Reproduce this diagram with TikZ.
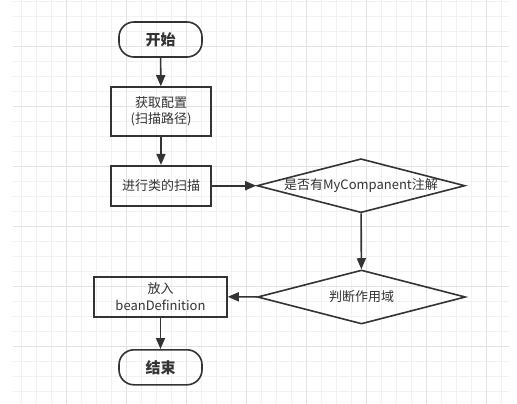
\documentclass[tikz,border=0pt]{standalone}
\usepackage{fontspec}
\setmainfont{Noto Sans CJK SC}
\usetikzlibrary{shapes.geometric, arrows.meta}
\definecolor{ink}{HTML}{333333}
\definecolor{gridminor}{HTML}{F1F1F1}
\definecolor{gridmajor}{HTML}{E2E2E2}
\tikzset{
  every node/.style={text=ink, font=\fontsize{13}{16.5}\selectfont},
  termbox/.style={draw=ink, line width=1.6pt, rounded corners=15pt, minimum width=83pt, minimum height=35pt, inner sep=0pt, font=\fontsize{15}{18}\selectfont\bfseries},
  procbox/.style={draw=ink, line width=1.6pt, minimum width=100pt, inner sep=0pt, align=center},
  decision/.style={draw=ink, line width=1.6pt, diamond, minimum width=208pt, minimum height=54pt, inner sep=0pt},
  flow/.style={draw=ink, line width=1.6pt, -{Triangle[length=11pt, width=9pt]}},
}
\begin{document}
\begin{tikzpicture}[x=1pt, y=-1pt]
\useasboundingbox (0,0) rectangle (517,404);
\fill[white] (0,0) rectangle (517,404);
% grid
\foreach \gx in {21.7,36.7,...,509} \draw[gridminor, line width=0.8pt] (\gx,0) -- (\gx,404);
\foreach \gy in {1.5,16.5,...,404} \draw[gridminor, line width=0.8pt] (13,\gy) -- (509,\gy);
\foreach \gx in {66.7,126.7,...,509} \draw[gridmajor, line width=0.8pt] (\gx,0) -- (\gx,404);
\foreach \gy in {46.5,106.5,...,404} \draw[gridmajor, line width=0.8pt] (13,\gy) -- (509,\gy);

% nodes
\node[termbox] (start) at (160.5,39.5) {开始};
\node[procbox, minimum height=49pt] (cfg) at (161,111.5) {获取配置\\(扫描路径)};
\node[procbox, minimum height=40pt] (scan) at (161,185.7) {进行类的扫描};
\node[decision] (hasann) at (361,185.7) {\makebox[0pt]{是否有MyCompanent注解}};
\node[decision] (scope) at (361.5,297) {\makebox[0pt]{判断作用域}};
\node[procbox, minimum width=133pt, minimum height=40pt] (put) at (160.5,296.7) {放入\\beanDefinition};
\node[termbox] (end) at (160.5,367.3) {结束};

% connectors
\draw[flow] (start) -- (cfg);
\draw[flow] (cfg) -- (scan);
\draw[flow] (scan) -- (hasann);
\draw[flow] (hasann) -- (scope);
\draw[flow] (scope) -- (put);
\draw[flow] (put) -- (end);
\end{tikzpicture}
\end{document}
